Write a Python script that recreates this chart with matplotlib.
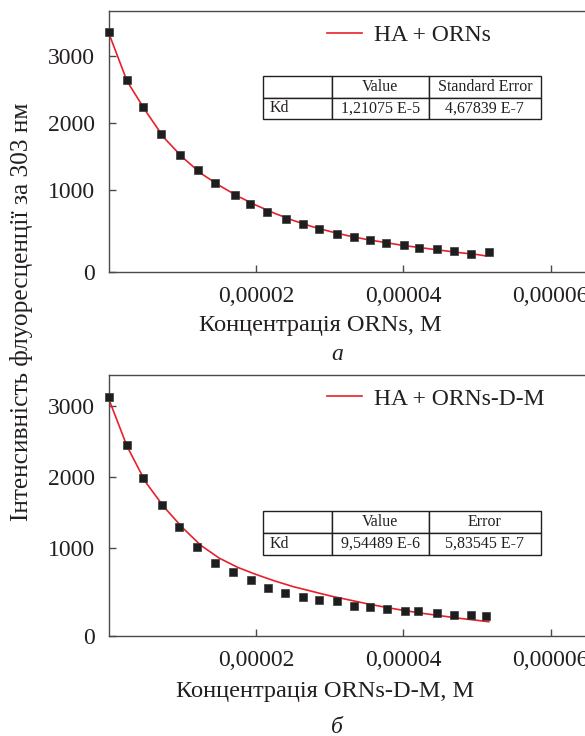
import matplotlib
matplotlib.use("Agg")
import matplotlib.pyplot as plt
import numpy as np

plt.rcParams['font.family'] = ['Liberation Serif', 'DejaVu Serif']

TXT = '#231f20'
RED = '#e8202a'

# ---- data (concentration in units of 1e-6 M) ----
conc_a = [0, 2.44, 4.70, 7.06, 9.72, 12.09, 14.44, 17.14, 19.23, 21.54, 24.04, 26.32,
          28.56, 30.96, 33.31, 35.48, 37.66, 40.10, 42.18, 44.54, 46.89, 49.20, 51.60]
int_a = [3347, 2632, 2240, 1833, 1516, 1293, 1109, 930, 796, 677, 568, 491,
         415, 350, 304, 253, 216, 177, 144, 118, 92, 48, 74]
fit_x_a = [0, 2.5, 5, 7.5, 10, 12.5, 15, 17.5, 20, 22.5, 25, 27.5, 30, 32.5, 35,
           37.5, 40, 42.5, 45, 47.5, 50, 51.2]
fit_y_a = [3340, 2620, 2180, 1780, 1490, 1250, 1070, 910, 775, 655, 550, 460, 385,
           320, 265, 220, 175, 140, 105, 70, 40, 20]

conc_b = [0, 2.44, 4.70, 7.28, 9.59, 12.0, 14.44, 16.93, 19.33, 21.64, 23.99, 26.34,
          28.56, 30.96, 33.31, 35.48, 37.84, 40.24, 42.0, 44.62, 46.89, 49.24, 51.19]
int_b = [3124, 2456, 1981, 1603, 1290, 1010, 796, 665, 553, 441, 371, 315,
         269, 259, 189, 167, 147, 115, 111, 87, 59, 59, 45]
fit_x_b = [0, 2.5, 5, 7.5, 10, 12.5, 15, 17.5, 20, 22.5, 25, 27.5, 30, 32.5, 35,
           37.5, 40, 42.5, 45, 47.5, 50, 51.6]
fit_y_b = [3100, 2430, 1930, 1580, 1290, 1040, 860, 730, 630, 540, 460, 395, 330,
           275, 220, 170, 125, 85, 50, 15, -15, -35]

legend_a = 'HA + ORNs'
legend_b = 'HA + ORNs-D-M'
xlabel_a = 'Концентрація ORNs, M'
xlabel_b = 'Концентрація ORNs-D-M, M'
ylabel = 'Інтенсивність флуоресценції за 303 нм'
table_a = [['', 'Value', 'Standard Error'], ['Kd', '1,21075 E-5', '4,67839 E-7']]
table_b = [['', 'Value', 'Error'], ['Kd', '9,54489 E-6', '5,83545 E-7']]
xticks = [2e-5, 4e-5, 6e-5]
xticklabels = ['0,00002', '0,00004', '0,00006']
yticklabels = ['0', '1000', '2000', '3000']

fig = plt.figure(figsize=(5.85, 7.36), dpi=100)

tab_bbox = {'а': [0.2993, 0.5857, 0.539, 0.165], 'б': [0.2993, 0.3114, 0.539, 0.165]}


def panel(rect, cx, cy, fx, fy, ylim, leg, xlabel, tab, xlab_pos, ysub, sub):
    ax = fig.add_axes(rect)
    x = np.array(cx) * 1e-6
    ax.plot(np.array(fx) * 1e-6, fy, color=RED, lw=1.2, label=leg, zorder=2)
    ax.plot(x, cy, ls='none', marker='s', ms=5.8, color='#1e1e1e', mec='#3a3a3a', mew=0.5,
            zorder=3, clip_on=False)
    ax.set_xlim(0, 7e-5)
    ax.set_ylim(*ylim)
    ax.set_xticks(xticks)
    ax.set_xticklabels(xticklabels)
    ax.set_yticks([ylim[0], 1000, 2000, 3000])
    ax.set_yticklabels(yticklabels)
    for s in ['left', 'bottom', 'top', 'right']:
        ax.spines[s].set_color('#4a4a4a')
        ax.spines[s].set_linewidth(1.0)
    ax.tick_params(direction='in', length=5, width=1.0, color='#4a4a4a',
                   labelsize=17, labelcolor=TXT)
    ax.tick_params(axis='y', pad=10)
    ax.tick_params(axis='x', pad=10)
    ax.set_xlabel(xlabel, fontsize=17.6, color=TXT)
    ax.xaxis.set_label_coords(*xlab_pos)
    ax.xaxis.label.set_va('center')
    lg = ax.legend(loc='center left', bbox_to_anchor=(0.4235, 0.908), frameon=False,
                   fontsize=17, handlelength=1.5, handletextpad=0.5, borderpad=0,
                   borderaxespad=0)
    for t in lg.get_texts():
        t.set_color(TXT)
    tb = ax.table(cellText=tab, bbox=tab_bbox[sub], colWidths=[69, 97, 112], cellLoc='center')
    tb.auto_set_font_size(False)
    tb.set_fontsize(11.5)
    for (r, c), cell in tb.get_celld().items():
        cell.set_linewidth(1.0)
        cell.set_edgecolor('#231f20')
        cell.get_text().set_color(TXT)
        cell.get_text().set_va('center')
        if c == 0:
            cell.get_text().set_ha('left')
            cell.PAD = 0.1
    fig.text(0.576, ysub, sub, fontsize=17, style='italic', color=TXT, ha='center', va='center')
    return ax


panel([0.1858, 0.6308, 0.8812, 0.3542], conc_a, int_a, fit_x_a, fit_y_a, (-216, 3665),
      legend_a, xlabel_a, table_a, (0.411, -0.2045), 0.5177, 'а')
panel([0.1858, 0.1363, 0.8812, 0.3542], conc_b, int_b, fit_x_b, fit_y_b, (-231, 3434),
      legend_b, xlabel_b, table_b, (0.42, -0.216), 0.0122, 'б')

fig.text(0.0376, 0.576, ylabel, rotation=90, fontsize=18.3, color=TXT, ha='center', va='center')

fig.savefig('out.png', dpi=100)
